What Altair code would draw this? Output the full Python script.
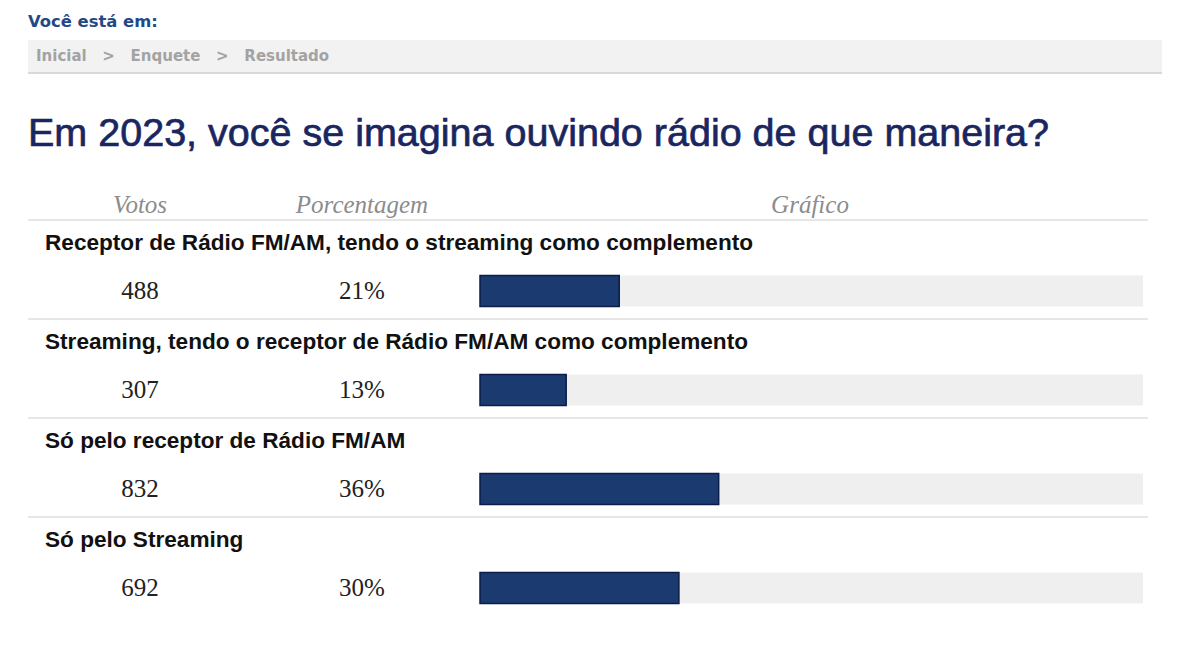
import pandas as pd
import altair as alt

# poll result values read from the page
answers = [
    "Receptor de Rádio FM/AM, tendo o streaming como complemento",
    "Streaming, tendo o receptor de Rádio FM/AM como complemento",
    "Só pelo receptor de Rádio FM/AM",
    "Só pelo Streaming",
]
votes = [488, 307, 832, 692]
percent = [21, 13, 36, 30]

title_text = "Em 2023, você se imagina ouvindo rádio de que maneira?"
header_labels = ["Votos", "Porcentagem", "Gráfico"]
breadcrumb = ["Inicial", "Enquete", "Resultado"]

df = pd.DataFrame({"answer": answers, "votes": votes, "percent": percent})
df["pct_label"] = df["percent"].astype(str) + "%"
df["full"] = 100

sans = "Liberation Sans"
serif = "Liberation Serif"
verdana = "DejaVu Sans"

y_scale = alt.Scale(type="point", domain=answers, range=[283, 580], padding=0)
x_scale = alt.Scale(domain=[0, 100], range=[472, 1135])
Y = alt.Y("answer:N", scale=y_scale, axis=None)

base = alt.Chart(df)

# page header: breadcrumb strip
one = pd.DataFrame({"t": [title_text]})
sep = "\u00a0\u00a0\u00a0>\u00a0\u00a0\u00a0"
crumbs = pd.DataFrame({"t": [sep.join(breadcrumb)]})

voce = alt.Chart(pd.DataFrame({"t": ["Você está em:"]})).mark_text(
    align="left", baseline="middle", font=verdana, fontSize=16.4, fontWeight="bold",
    color="#1f4a86"
).encode(x=alt.value(20), y=alt.value(14), text="t:N")

strip = alt.Chart(one).mark_rect(color="#f2f2f2").encode(
    x=alt.value(20), x2=alt.value(1154), y=alt.value(32), y2=alt.value(65)
)
strip_line = alt.Chart(one).mark_rule(color="#d9d9d9", strokeWidth=2).encode(
    x=alt.value(20), x2=alt.value(1154), y=alt.value(65)
)
crumb_text = alt.Chart(crumbs).mark_text(
    align="left", baseline="middle", font=verdana, fontSize=15, fontWeight="bold",
    color="#a3a3a3"
).encode(x=alt.value(28), y=alt.value(48), text="t:N")

title = alt.Chart(one).mark_text(
    align="left", baseline="middle", font=sans, fontSize=39.5, color="#1a2660",
    stroke="#1a2660", strokeWidth=0.7
).encode(x=alt.value(20), y=alt.value(126), text="t:N")

# column headers
hdr = pd.DataFrame({"t": header_labels})
h_votos = alt.Chart(hdr).transform_filter(alt.datum.t == "Votos")
h_pct = alt.Chart(hdr).transform_filter(alt.datum.t == "Porcentagem")
h_graf = alt.Chart(hdr).transform_filter(alt.datum.t == "Gráfico")
hstyle = dict(align="center", baseline="middle", font=serif, fontSize=25,
              fontStyle="italic", color="#8c8c8c")
headers = (
    h_votos.mark_text(**hstyle).encode(x=alt.value(132), y=alt.value(197), text="t:N")
    + h_pct.mark_text(**hstyle).encode(x=alt.value(354), y=alt.value(197), text="t:N")
    + h_graf.mark_text(**hstyle).encode(x=alt.value(802), y=alt.value(197), text="t:N")
)

# separators above each answer
seps = base.mark_rule(color="#e6e6e6", strokeWidth=2, yOffset=-71).encode(
    y=Y, x=alt.value(20), x2=alt.value(1140)
)

labels = base.mark_text(
    align="left", baseline="middle", font=sans, fontSize=22.6, fontWeight="bold",
    color="#111111", yOffset=-48
).encode(y=Y, x=alt.value(37), text="answer:N")

vote_text = base.mark_text(
    align="center", baseline="middle", font=serif, fontSize=25, color="#222222"
).encode(y=Y, x=alt.value(132), text="votes:Q")

pct_text = base.mark_text(
    align="center", baseline="middle", font=serif, fontSize=25, color="#222222"
).encode(y=Y, x=alt.value(354), text="pct_label:N")

track = base.mark_bar(height=31, color="#efefef").encode(
    y=Y, x=alt.X("zero:Q", scale=x_scale, axis=None), x2="full:Q"
).transform_calculate(zero="0")

bars = base.mark_bar(height=31, color="#1a3a70", stroke="#0c1d4a", strokeWidth=1.5).encode(
    y=Y, x=alt.X("zero:Q", scale=x_scale, axis=None), x2="percent:Q"
).transform_calculate(zero="0")

chart = (
    alt.layer(voce, strip, strip_line, crumb_text, title, headers, seps,
              labels, vote_text, pct_text, track, bars)
    .properties(
        width=1184, height=656,
        autosize=alt.AutoSizeParams(type="fit", contains="padding"),
        padding=0, background="white",
    )
    .configure_view(stroke=None)
)

chart.save("out.html", embed_options={"renderer": "svg", "actions": False})
